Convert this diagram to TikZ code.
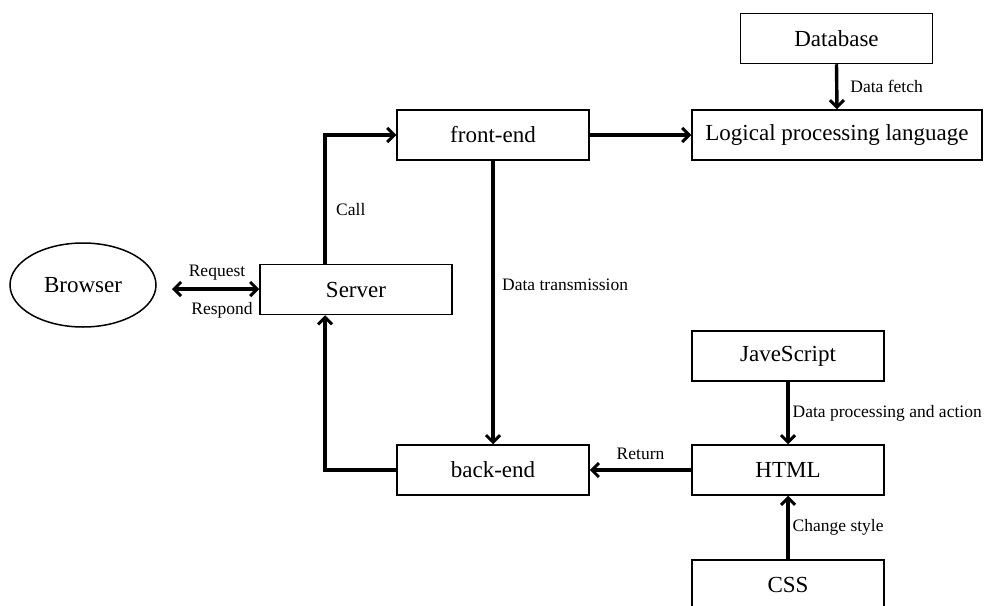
\documentclass[tikz,border=0pt]{standalone}
\usepackage{fontspec}
\setmainfont{Liberation Serif}
\usetikzlibrary{arrows.meta,shapes.geometric}
\begin{document}
\begin{tikzpicture}[x=1pt,y=-1pt,
  box/.style={draw,line width=1.5pt,minimum width=192pt,minimum height=50pt,inner sep=0pt,font=\fontsize{23}{26}\selectfont},
  tip/.style={Straight Barb[length=7pt,width=14pt,line width=3pt]},
  conn/.style={line width=3.4pt,-{Straight Barb[length=7pt,width=14pt,line width=3pt]}},
  lbl/.style={font=\fontsize{17.5}{20}\selectfont,inner sep=0pt}]
\useasboundingbox (0,0) rectangle (987,605);
\begin{scope}
\clip (0,0) rectangle (987,605);
\node[box] (db) at (836.5,38.5) {Database};
\node[box,minimum width=290pt] (lpl) at (837,135) {Logical processing language};
\node[box] (fe) at (493,135) {front-end};
\node[box] (srv) at (356,289.5) {Server};
\node[draw,line width=1.5pt,ellipse,minimum width=146pt,minimum height=84pt,inner sep=0pt,font=\fontsize{23}{26}\selectfont] (br) at (83,285) {Browser};
\node[box] (be) at (493,470) {back-end};
\node[box] (html) at (788,470) {HTML};
\node[box] (js) at (788,356) {JaveScript};
\node[box] (css) at (788,585) {CSS};
\end{scope}
\draw[conn] (db.south) -- (lpl.north) node[lbl,midway,anchor=west,xshift=12pt] {Data fetch};
\draw[conn] (fe.east) -- (lpl.west);
\coordinate (c1) at (325,135);
\draw[conn] (srv.north -| c1) -- (c1) -- (fe.west);
\node[lbl,anchor=west] (call) at (336,210) {Call};
\draw[line width=3.4pt,{Straight Barb[length=7pt,width=14pt,line width=3pt]}-{Straight Barb[length=7pt,width=14pt,line width=3pt]}] (172,289) coordinate (bl) -- (srv.west |- bl);
\node[lbl] (req) at (217,273) {Request};
\node[lbl] (resp) at (222,310) {Respond};
\draw[conn] (fe.south) -- (be.north);
\node[lbl,anchor=west] (dt) at (502,285) {Data transmission};
\coordinate (c2) at (325,470);
\draw[conn] (be.west) -- (c2) -- (srv.south -| c2);
\draw[conn] (html.west) -- (be.east) node[lbl,pos=0.5,above=9pt] {Return};
\draw[conn] (js.south) -- (html.north) node[lbl,midway,anchor=west,xshift=3pt] {Data processing and action};
\draw[conn] (css.north) -- (html.south) node[lbl,midway,anchor=west,xshift=3pt] {Change style};
\end{tikzpicture}
\end{document}
